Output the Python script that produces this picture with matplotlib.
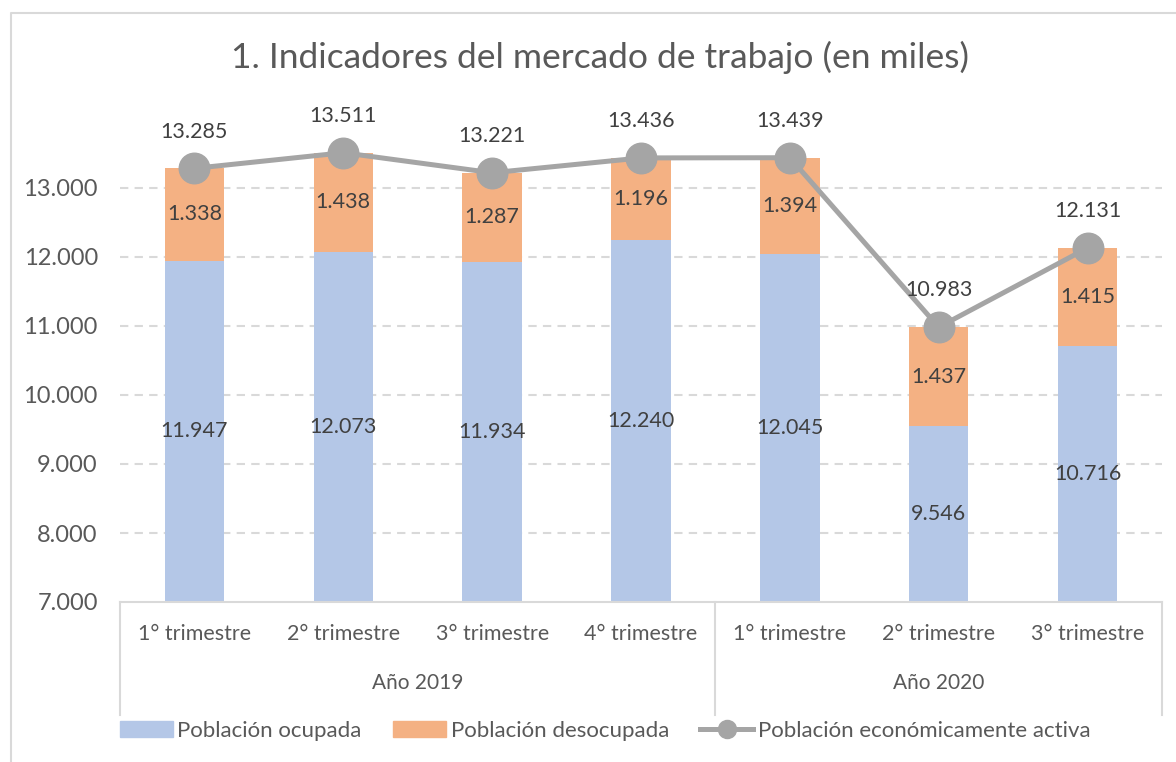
import matplotlib
matplotlib.use("Agg")
import matplotlib.pyplot as plt
from matplotlib.lines import Line2D
from matplotlib.patches import Patch
import matplotlib.transforms as mtransforms

plt.rcParams['font.family'] = ['Lato', 'DejaVu Sans']

## data (miles de personas)
trimestres = ["1° trimestre", "2° trimestre", "3° trimestre", "4° trimestre",
              "1° trimestre", "2° trimestre", "3° trimestre"]
anios = ["Año 2019", "Año 2020"]
anio_size = [4, 3]
ocupada = [11947, 12073, 11934, 12240, 12045, 9546, 10716]
desocupada = [1338, 1438, 1287, 1196, 1394, 1437, 1415]
activa = [13285, 13511, 13221, 13436, 13439, 10983, 12131]

c_blue = "#B4C7E7"
c_orange = "#F4B183"
c_gray = "#A5A5A5"
c_text = "#404040"
c_axis = "#595959"
c_line = "#D9D9D9"

W, H = 1176, 762
fig = plt.figure(figsize=(W / 100, H / 100), dpi=100)
ax = fig.add_axes([120 / W, 1 - 602 / H, (1162 - 120) / W, (602 - 119) / H])


def fmt(v):
    return f"{v:,}".replace(",", ".")


x = list(range(len(trimestres)))
base = 7000
ax.bar(x, [o - base for o in ocupada], bottom=base, width=0.4, color=c_blue, zorder=2)
ax.bar(x, desocupada, bottom=ocupada, width=0.4, color=c_orange, zorder=2)
ax.plot(x, activa, color=c_gray, lw=3.6, marker="o", ms=22, zorder=3)

for i in x:
    ax.text(i, (base + ocupada[i]) / 2, fmt(ocupada[i]), ha="center", va="center",
            fontsize=15.5, color=c_text, zorder=4)
    ax.text(i, ocupada[i] + desocupada[i] / 2, fmt(desocupada[i]), ha="center",
            va="center", fontsize=15.5, color=c_text, zorder=4)
    ax.annotate(fmt(activa[i]), (i, activa[i]), xytext=(0, 26.5),
                textcoords="offset points", ha="center", va="center",
                fontsize=15.5, color=c_text, zorder=4)

ax.set_xlim(-0.5, len(x) - 0.5)
ax.set_ylim(7000, 14000)
yt = list(range(7000, 14000, 1000))
ax.set_yticks(yt)
ax.set_yticklabels([fmt(v) for v in yt], fontsize=17, color=c_axis)
ax.tick_params(axis="y", length=0, pad=16)
ax.set_xticks([])
for v in yt[1:]:
    ax.axhline(v, color=c_line, lw=1.5, ls=(0, (4, 3)), zorder=1)
for s in ["top", "right", "left"]:
    ax.spines[s].set_visible(False)
ax.spines["bottom"].set_color(c_line)
ax.spines["bottom"].set_linewidth(1.5)

# category and group labels below the axis
trans = mtransforms.blended_transform_factory(ax.transData, ax.transAxes)
ax_h = 602 - 119
for i, lab in enumerate(trimestres):
    ax.text(i, -32 / ax_h, lab, transform=trans, ha="center", va="center",
            fontsize=15.5, color=c_axis)
start = 0
seps = [-0.5]
for name, n in zip(anios, anio_size):
    ax.text(start + (n - 1) / 2, -81 / ax_h, name, transform=trans, ha="center",
            va="center", fontsize=15, color=c_axis)
    start += n
    seps.append(start - 0.5)
for s in seps:
    ax.add_line(Line2D([s, s], [0, -113 / ax_h], transform=trans, color=c_line,
                       lw=1.5, clip_on=False))

fig.text(600 / W, 1 - 57 / H, "1. Indicadores del mercado de trabajo (en miles)",
         ha="center", va="center", fontsize=25.5, color=c_axis)

handles = [Patch(color=c_blue), Patch(color=c_orange),
           Line2D([], [], color=c_gray, lw=3.6, marker="o", ms=13)]
labels = ["Población ocupada", "Población desocupada", "Población económicamente activa"]
fig.legend(handles, labels, loc="center", bbox_to_anchor=(605 / W, 1 - 731 / H), ncol=3,
           frameon=False, fontsize=16, labelcolor=c_axis, handlelength=2.4,
           handleheight=0.7, handletextpad=0.2, columnspacing=1.4)

# chart frame
fig.add_artist(Line2D([11 / W, 11 / W, 1], [0, 1 - 13 / H, 1 - 13 / H],
                      transform=fig.transFigure, color=c_line, lw=1.5))

fig.savefig("out.png", dpi=100)
